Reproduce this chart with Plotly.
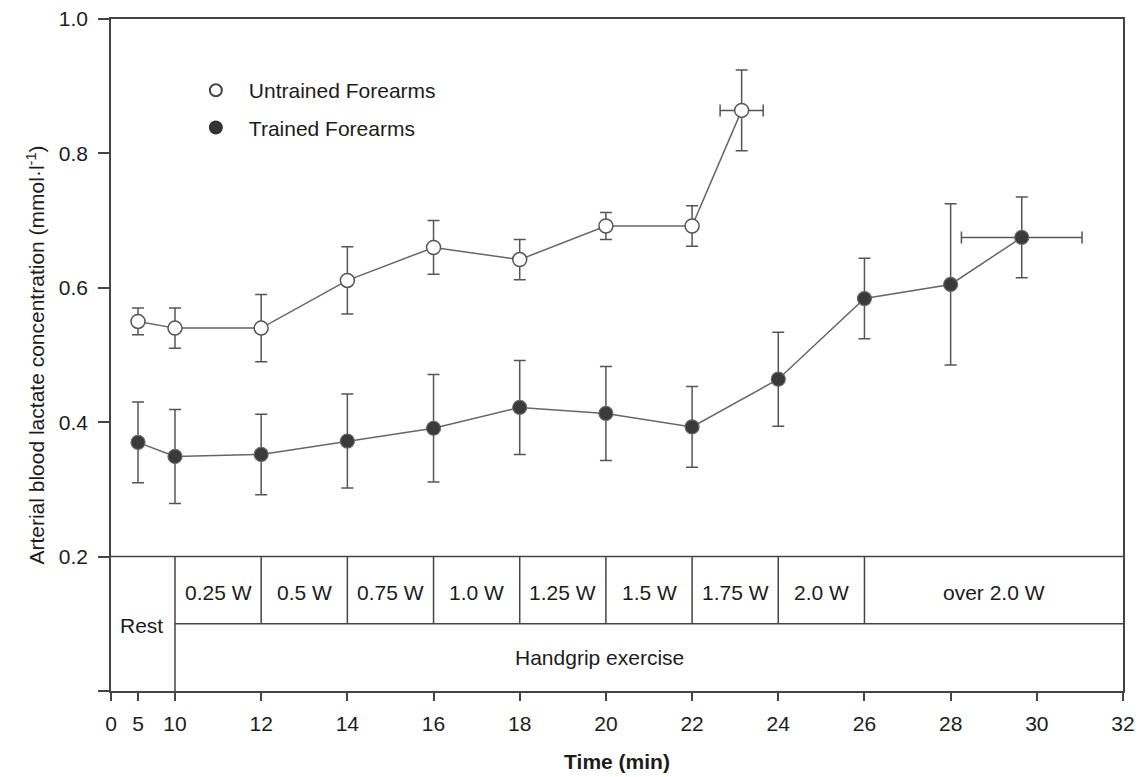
import numpy as np
import plotly.graph_objects as go

# ---------------- data ----------------
untrained_t = [5, 10, 12, 14, 16, 18, 20, 22, 23.15]
untrained_y = [0.550, 0.540, 0.540, 0.611, 0.660, 0.642, 0.692, 0.692, 0.864]
untrained_yerr = [0.02, 0.03, 0.05, 0.05, 0.04, 0.03, 0.02, 0.03, 0.06]
untrained_xerr = [None, None, None, None, None, None, None, None, 0.5]

trained_t = [5, 10, 12, 14, 16, 18, 20, 22, 24, 26, 28, 29.65]
trained_y = [0.370, 0.349, 0.352, 0.372, 0.391, 0.422, 0.413, 0.393, 0.464, 0.584, 0.605, 0.675]
trained_yerr = [0.06, 0.07, 0.06, 0.07, 0.08, 0.07, 0.07, 0.06, 0.07, 0.06, 0.12, 0.06]
trained_xerr = [None] * 11 + [1.4]

x_ticks = [0, 5, 10, 12, 14, 16, 18, 20, 22, 24, 26, 28, 30, 32]
y_ticks = [0.0, 0.2, 0.4, 0.6, 0.8, 1.0]
y_ticklabels = ["", "0.2", "0.4", "0.6", "0.8", "1.0"]

stage_bounds = [10, 12, 14, 16, 18, 20, 22, 24, 26, 32]
stage_labels = ["0.25 W", "0.5 W", "0.75 W", "1.0 W", "1.25 W", "1.5 W", "1.75 W", "2.0 W", "over 2.0 W"]

# broken time axis: 0-10 min compressed
axis_break_t = [0, 5, 10, 32]
axis_break_pos = [8.515, 9.142, 10, 32]


def pos(t):
    return np.interp(np.asarray(t, dtype=float), axis_break_t, axis_break_pos)


FONT = "Liberation Sans, Arial, sans-serif"
TXT = "#1c1c1c"
AX = "#444444"
LINE = "#666666"
FS = 21

fig = go.Figure()

# Untrained
fig.add_trace(go.Scatter(
    x=pos(untrained_t), y=untrained_y, mode="lines+markers", showlegend=False,
    line=dict(color=LINE, width=1.5),
    marker=dict(symbol="circle", size=14, color="white", line=dict(color="#555555", width=1.5)),
    error_y=dict(type="data", array=untrained_yerr, color="#555555", thickness=1.5, width=6),
    error_x=dict(type="data", array=untrained_xerr, color="#555555", thickness=1.5, width=6),
))
# Trained
fig.add_trace(go.Scatter(
    x=pos(trained_t), y=trained_y, mode="lines+markers", showlegend=False,
    line=dict(color=LINE, width=1.5),
    marker=dict(symbol="circle", size=14, color="#3a3a3a", line=dict(color="#666666", width=1.2)),
    error_y=dict(type="data", array=trained_yerr, color="#555555", thickness=1.5, width=6),
    error_x=dict(type="data", array=trained_xerr, color="#555555", thickness=1.5, width=6),
))

# legend entries
fig.add_trace(go.Scatter(
    x=[None], y=[None], mode="markers", name="Untrained Forearms", legendgroup="u",
    marker=dict(symbol="circle", size=13, color="white", line=dict(color="#444444", width=1.5)),
))
fig.add_trace(go.Scatter(
    x=[None], y=[None], mode="markers", name="Trained Forearms", legendgroup="t",
    marker=dict(symbol="circle", size=14, color="#333333", line=dict(color="#333333", width=1)),
))

# ---------------- protocol table ----------------
shapes = []
lw = dict(color=AX, width=1.5)
shapes.append(dict(type="line", xref="x", yref="y", x0=pos(0), x1=32, y0=0.2, y1=0.2, line=lw))
shapes.append(dict(type="line", xref="x", yref="y", x0=10, x1=32, y0=0.1, y1=0.1, line=lw))
shapes.append(dict(type="line", xref="x", yref="y", x0=10, x1=10, y0=0.0, y1=0.2, line=lw))
for b in stage_bounds[1:-1]:
    shapes.append(dict(type="line", xref="x", yref="y", x0=b, x1=b, y0=0.1, y1=0.2, line=lw))

annotations = []
for i, lab in enumerate(stage_labels):
    xc = (stage_bounds[i] + stage_bounds[i + 1]) / 2
    annotations.append(dict(x=xc, y=0.147, xref="x", yref="y", text=lab, showarrow=False,
                            font=dict(family=FONT, size=FS, color=TXT)))
annotations.append(dict(x=(pos(0) + 10) / 2 - 0.03, y=0.098, xref="x", yref="y", text="Rest", showarrow=False,
                        font=dict(family=FONT, size=FS, color=TXT)))
annotations.append(dict(x=19.85, y=0.05, xref="x", yref="y", text="Handgrip exercise", showarrow=False,
                        font=dict(family=FONT, size=FS, color=TXT)))

fig.update_layout(
    width=1141, height=777,
    margin=dict(l=111, r=18, t=19, b=86),
    paper_bgcolor="white", plot_bgcolor="white",
    font=dict(family=FONT, size=FS, color=TXT),
    shapes=shapes, annotations=annotations,
    legend=dict(x=0.071, y=0.924, xanchor="left", yanchor="top",
                font=dict(family=FONT, size=FS, color=TXT), itemwidth=56,
                bgcolor="rgba(0,0,0,0)", tracegroupgap=7, itemsizing="constant"),
)

fig.update_xaxes(
    range=[pos(0), 32], tickmode="array", tickvals=pos(x_ticks), ticktext=[str(t) for t in x_ticks],
    showgrid=False, zeroline=False, showline=True, linecolor=AX, linewidth=1.5, mirror=True,
    ticks="outside", ticklen=8, tickwidth=1.5, tickcolor=AX, ticklabelstandoff=5, automargin=False,
    tickfont=dict(family=FONT, size=FS, color=TXT),
    title=dict(text="<b>Time (min)</b>", font=dict(family=FONT, size=FS, color=TXT), standoff=20),
)
fig.update_yaxes(
    range=[0, 1.0], tickmode="array", tickvals=y_ticks, ticktext=y_ticklabels,
    showgrid=False, zeroline=False, showline=True, linecolor=AX, linewidth=1.5, mirror=True,
    ticks="outside", ticklen=11, tickwidth=1.5, tickcolor=AX, ticklabelstandoff=6, automargin=False,
    tickfont=dict(family=FONT, size=FS, color=TXT),
    title=dict(text="Arterial blood lactate concentration (mmol·l<sup>-1</sup>)",
               font=dict(family=FONT, size=21, color=TXT), standoff=8),
)

fig.write_html("out.html")
